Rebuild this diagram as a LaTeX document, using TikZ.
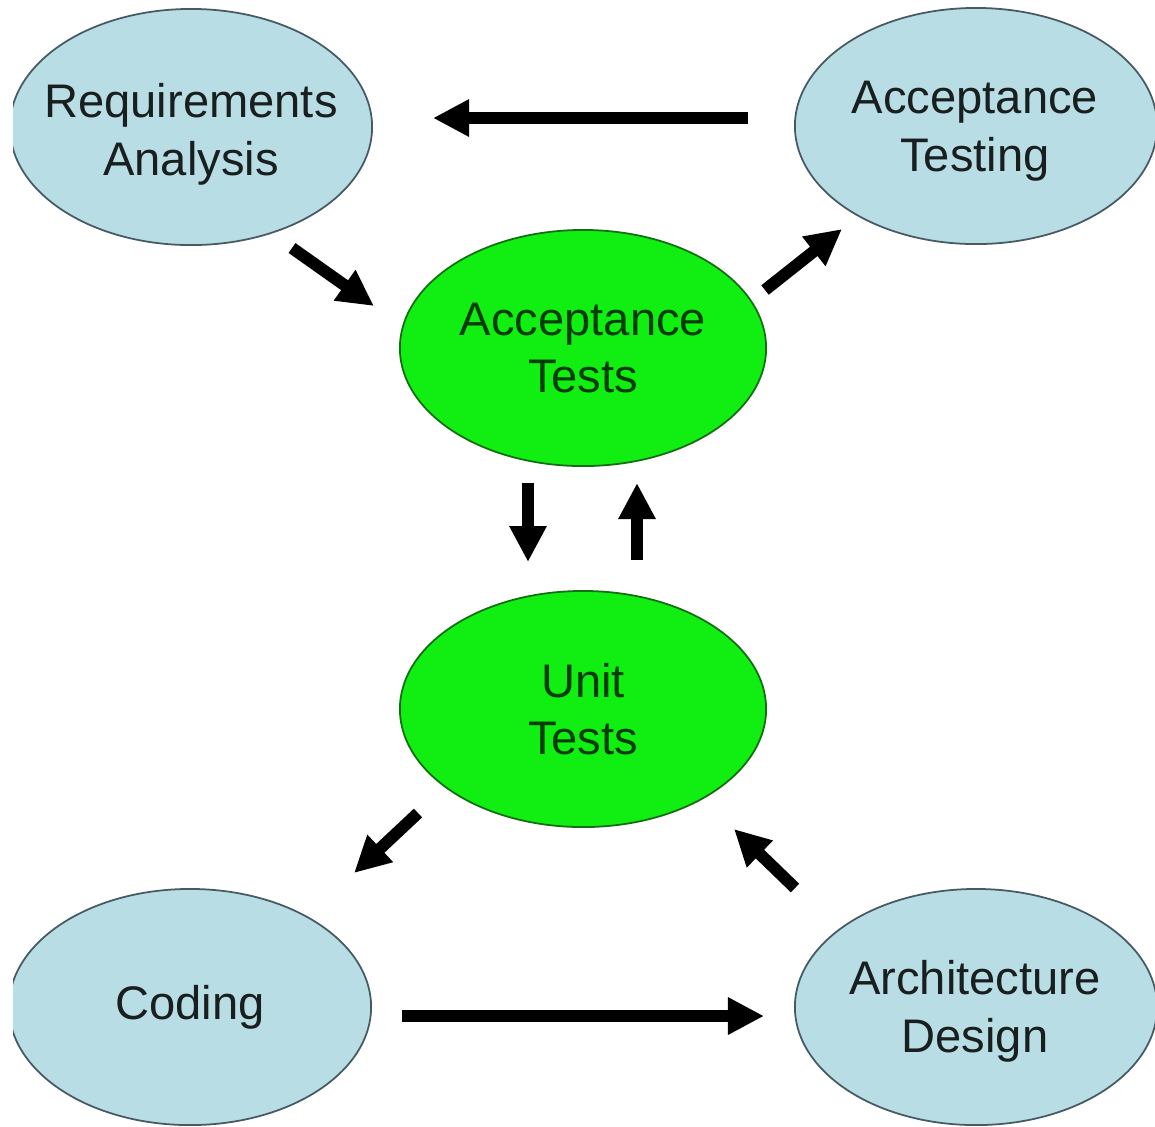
\documentclass[tikz,border=0pt]{standalone}
\usepackage{fontspec}
\setmainfont{Liberation Sans}
\usetikzlibrary{shapes.geometric,arrows.meta}
\definecolor{phase}{RGB}{184,221,228}
\definecolor{phaseline}{RGB}{70,90,100}
\definecolor{testfill}{RGB}{17,238,17}
\definecolor{testline}{RGB}{20,110,20}
\definecolor{testtext}{RGB}{0,60,0}
\definecolor{phasetext}{RGB}{25,30,30}
\begin{document}
\begin{tikzpicture}[x=0.01cm,y=-0.01cm,
  phasebox/.style={ellipse,draw=phaseline,fill=phase,line width=0.5pt,inner sep=0pt,
    minimum width=3.62cm,minimum height=2.36cm},
  testbox/.style={ellipse,draw=testline,fill=testfill,line width=0.5pt,inner sep=0pt,
    minimum width=3.66cm,minimum height=2.36cm},
  phaselabel/.style={align=center,text=phasetext,inner sep=0pt,
    font=\fontsize{13.4}{16.4}\selectfont},
  testlabel/.style={align=center,text=testtext,inner sep=0pt,
    font=\fontsize{13.4}{16.4}\selectfont},
  flow/.style={line width=0.12cm,-{Triangle[length=0.36cm,width=0.35cm]}}]
\useasboundingbox (0,0) rectangle (1155,1126);
\fill[white] (0,0) rectangle (1155,1126);
\begin{scope}
\clip (13,0) rectangle (1155,1126);
\node[phasebox] (req) at (191,127) {};
\node[phasebox] (acct) at (976,126) {};
\node[phasebox] (cod) at (190,1007) {};
\node[phasebox] (arch) at (976,1007) {};
\end{scope}
\node[testbox] (at) at (583,348) {};
\node[testbox] (ut) at (583,709) {};
\node[phaselabel] (reqt) at (191,134) {Requirements\\Analysis};
\node[phaselabel] (acctt) at (975,131) {Acceptance\\Testing};
\node[phaselabel] (codt) at (190,1007) {Coding};
\node[phaselabel] (archt) at (975,1011) {Architecture\\Design};
\node[testlabel] (att) at (at.center) {Acceptance\\Tests};
\node[testlabel] (utt) at (ut.center) {Unit\\Tests};
% arrow end points
\coordinate (a1s) at (748,118); \coordinate (a1e) at (433,118);
\coordinate (a2s) at (292,248); \coordinate (a2e) at (374,306);
\coordinate (a3s) at (765,290); \coordinate (a3e) at (842,229);
\coordinate (a4s) at (528,483); \coordinate (a4e) at (528,562);
\coordinate (a5s) at (637,560); \coordinate (a5e) at (637,483);
\coordinate (a6s) at (418,813); \coordinate (a6e) at (354,873);
\coordinate (a7s) at (795,888); \coordinate (a7e) at (734,829);
\coordinate (a8s) at (402,1016); \coordinate (a8e) at (764,1016);
\draw[flow] (a1s) -- (a1e);
\draw[flow] (a2s) -- (a2e);
\draw[flow] (a3s) -- (a3e);
\draw[flow] (a4s) -- (a4e);
\draw[flow] (a5s) -- (a5e);
\draw[flow] (a6s) -- (a6e);
\draw[flow] (a7s) -- (a7e);
\draw[flow] (a8s) -- (a8e);
\end{tikzpicture}
\end{document}
